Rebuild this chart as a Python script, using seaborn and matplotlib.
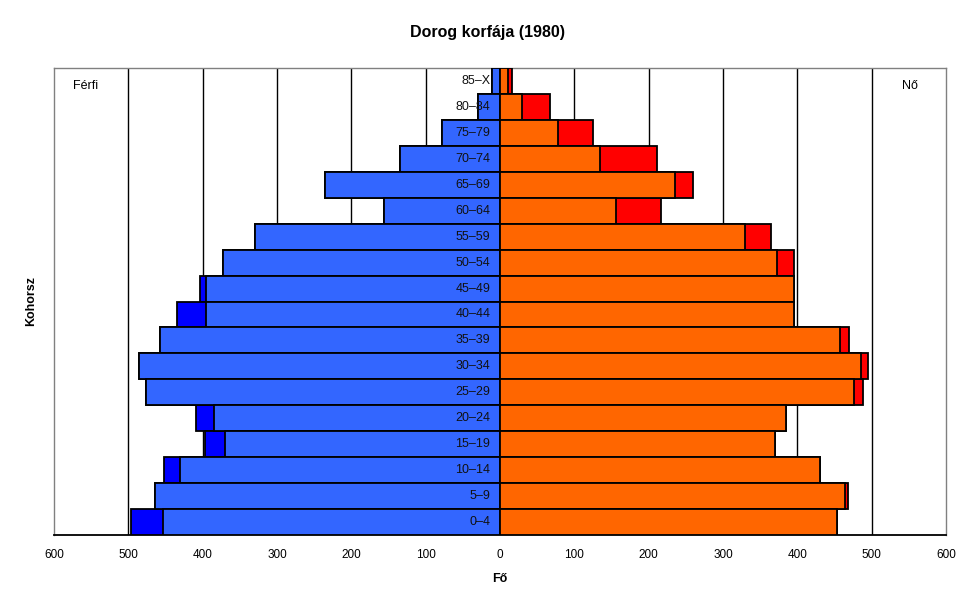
import matplotlib
matplotlib.use("Agg")
import matplotlib.pyplot as plt
import seaborn as sns
import numpy as np
import pandas as pd

cohorts = ['0–4', '5–9', '10–14', '15–19', '20–24', '25–29', '30–34', '35–39', '40–44',
           '45–49', '50–54', '55–59', '60–64', '65–69', '70–74', '75–79', '80–84', '85–X']
male = [497, 464, 452, 397, 409, 476, 485, 458, 434, 403, 372, 329, 156, 235, 134, 78, 30, 11]
female = [453, 468, 430, 370, 385, 489, 495, 469, 396, 396, 395, 364, 216, 259, 211, 125, 67, 16]
tick_values = [-600, -500, -400, -300, -200, -100, 0, 100, 200, 300, 400, 500, 600]

sns.set_style("white")
plt.rcParams['font.family'] = ['Liberation Sans', 'DejaVu Sans']
plt.rcParams['text.color'] = 'black'
plt.rcParams['axes.labelcolor'] = 'black'
plt.rcParams['xtick.color'] = 'black'
plt.rcParams['xtick.labelcolor'] = 'black'

df = pd.DataFrame({
    'cohort': cohorts,
    'male_total': [-m for m in male],
    'male_common': [-min(m, f) for m, f in zip(male, female)],
    'female_total': female,
    'female_common': [min(m, f) for m, f in zip(male, female)],
})
order = list(reversed(cohorts))

fig = plt.figure(figsize=(9.7, 6.04), dpi=100)
ax = fig.add_axes([54/970, 1-535/604, 892/970, 467/604])

kw = dict(data=df, y='cohort', order=order, orient='h', width=1.0, saturation=1,
          edgecolor='black', linewidth=1.3, ax=ax, zorder=3)
sns.barplot(x='male_total', color='#0000FF', **kw)
sns.barplot(x='male_common', color='#3366FF', **kw)
sns.barplot(x='female_total', color='#FF0000', **kw)
sns.barplot(x='female_common', color='#FF6600', **kw)

ax.set_xlim(-600, 600)
ax.set_ylim(len(cohorts) - 0.5, -0.5)
ax.set_xticks(tick_values)
ax.set_xticklabels([str(abs(v)) for v in tick_values], fontsize=8.5)
ax.set_yticks([])
ax.tick_params(axis='x', direction='out', length=4, width=1, color='black', pad=6)

for v in tick_values:
    if v not in (-600, 0, 600):
        ax.axvline(v, color='black', lw=1, zorder=1)

for i, c in enumerate(order):
    ax.text(-13, i, c, ha='right', va='center', fontsize=9, color='#111111', zorder=5)

for side in ['top', 'left', 'right']:
    ax.spines[side].set_color('#808080')
    ax.spines[side].set_linewidth(1)
ax.spines['bottom'].set_color('black')
ax.spines['bottom'].set_linewidth(1.3)

ax.text(0.035, 0.961, 'Férfi', transform=ax.transAxes, ha='center', va='center', fontsize=9)
ax.text(0.96, 0.961, 'Nő', transform=ax.transAxes, ha='center', va='center', fontsize=9)

ax.set_xlabel('Fő', fontsize=9, fontweight='bold', labelpad=9)
ax.set_ylabel('Kohorsz', fontsize=9, fontweight='bold', labelpad=12)
fig.text(488/970, 1-32/604, 'Dorog korfája (1980)', ha='center', va='center',
         fontsize=11.5, fontweight='bold')

fig.savefig('out.png', dpi=100)
